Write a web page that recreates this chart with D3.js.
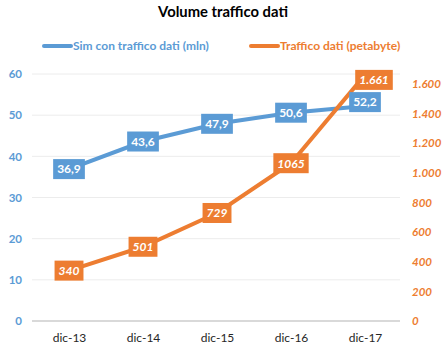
<!DOCTYPE html>
<html><head><meta charset="utf-8">
<script src="https://cdn.jsdelivr.net/npm/d3@7"></script>
<style>body{margin:0;background:#fff}svg{font-family:Lato,"Open Sans",sans-serif}</style>
</head><body><svg id="c" width="444" height="355"></svg>
<script>
const categories=["dic-13","dic-14","dic-15","dic-16","dic-17"];
const simValues=[36.9,43.6,47.9,50.6,52.2];
const simLabels=["36,9","43,6","47,9","50,6","52,2"];
const trafficValues=[340,501,729,1065,1661];
const trafficLabels=["340","501","729","1065","1.661"];
const leftTicks=[0,10,20,30,40,50,60];
const rightTicks=[0,200,400,600,800,1000,1200,1400,1600];
const rightTickLabels=["0","200","400","600","800","1.000","1.200","1.400","1.600"];
const seriesNames=["Sim con traffico dati (mln)","Traffico dati (petabyte)"];

const blue="#5B9BD5", orange="#ED7D31";
const svg=d3.select("#c");
const x=d3.scalePoint().domain(categories).range([69,365]);
const yL=d3.scaleLinear().domain([0,60]).range([321,74]);
const yR=d3.scaleLinear().domain([0,1667]).range([321,74]);

svg.append("text").attr("x",223).attr("y",17).attr("text-anchor","middle")
  .attr("font-weight","bold").attr("font-size",14.8).attr("fill","#000").text("Volume traffico dati");

// grid
svg.append("g").selectAll("line").data(leftTicks).join("line")
  .attr("x1",32).attr("x2",400).attr("y1",d=>yL(d)).attr("y2",d=>yL(d))
  .attr("stroke",d=>d===0?"#d9d9d9":"#ececec").attr("stroke-width",d=>d===0?2:1);

const axL=d3.axisLeft(yL).tickValues(leftTicks).tickSize(0).tickPadding(0);
const gL=svg.append("g").attr("transform","translate(22,0)").call(axL);
gL.select(".domain").remove();
gL.selectAll("text").attr("fill",blue).attr("font-weight","bold").attr("font-size",11.5).attr("font-family","Lato");

const axR=d3.axisRight(yR).tickValues(rightTicks).tickFormat((d,i)=>rightTickLabels[i]).tickSize(0).tickPadding(0);
const gR=svg.append("g").attr("transform","translate(412,0)").call(axR);
gR.select(".domain").remove();
gR.selectAll("text").attr("fill",orange).attr("font-weight","bold").attr("font-style","italic").attr("font-size",11.5).attr("font-family","Lato");

const axX=d3.axisBottom(x).tickSize(0).tickPadding(0);
const gX=svg.append("g").attr("transform","translate(0,333)").call(axX);
gX.select(".domain").remove();
gX.selectAll("text").attr("fill","#262626").attr("font-size",12).attr("font-family","Lato");

const lineL=d3.line().x((d,i)=>x(categories[i])).y(d=>yL(d));
const lineR=d3.line().x((d,i)=>x(categories[i])).y(d=>yR(d));
svg.append("path").attr("d",lineL(simValues)).attr("fill","none").attr("stroke",blue).attr("stroke-width",4);
svg.append("path").attr("d",lineR(trafficValues)).attr("fill","none").attr("stroke",orange).attr("stroke-width",4);

function labels(vals,labs,y,color,italic,nudge){
  const g=svg.append("g");
  vals.forEach((v,i)=>{
    const n=nudge(i);
    const cx=x(categories[i])+n[0], cy=y(v)+n[1];
    const t=g.append("text").attr("x",cx).attr("y",cy).attr("dy","0.36em").attr("text-anchor","middle")
      .attr("font-size",12).attr("font-weight","bold").attr("fill","#fff")
      .attr("font-style",italic?"italic":"normal").text(labs[i]);
    const bb=t.node().getBBox();
    g.insert("rect",()=>t.node()).attr("x",bb.x-4).attr("y",cy-10).attr("width",bb.width+8).attr("height",20).attr("fill",color);
  });
}
const last=categories.length-1;
labels(simValues,simLabels,yL,blue,false,i=>i===last?[0,-4]:[0,0]);
labels(trafficValues,trafficLabels,yR,orange,true,i=>i===last?[9,5]:[0,0]);

const leg=[{n:seriesNames[0],c:blue,x:43},{n:seriesNames[1],c:orange,x:250}];
leg.forEach(l=>{
  svg.append("line").attr("x1",l.x+1).attr("x2",l.x+28).attr("y1",46).attr("y2",46).attr("stroke",l.c).attr("stroke-width",4).attr("stroke-linecap","round");
  svg.append("text").attr("x",l.x+30).attr("y",46).attr("dy","0.36em").attr("fill",l.c).attr("font-weight","bold").attr("font-size",12).text(l.n);
});
</script></body></html>
